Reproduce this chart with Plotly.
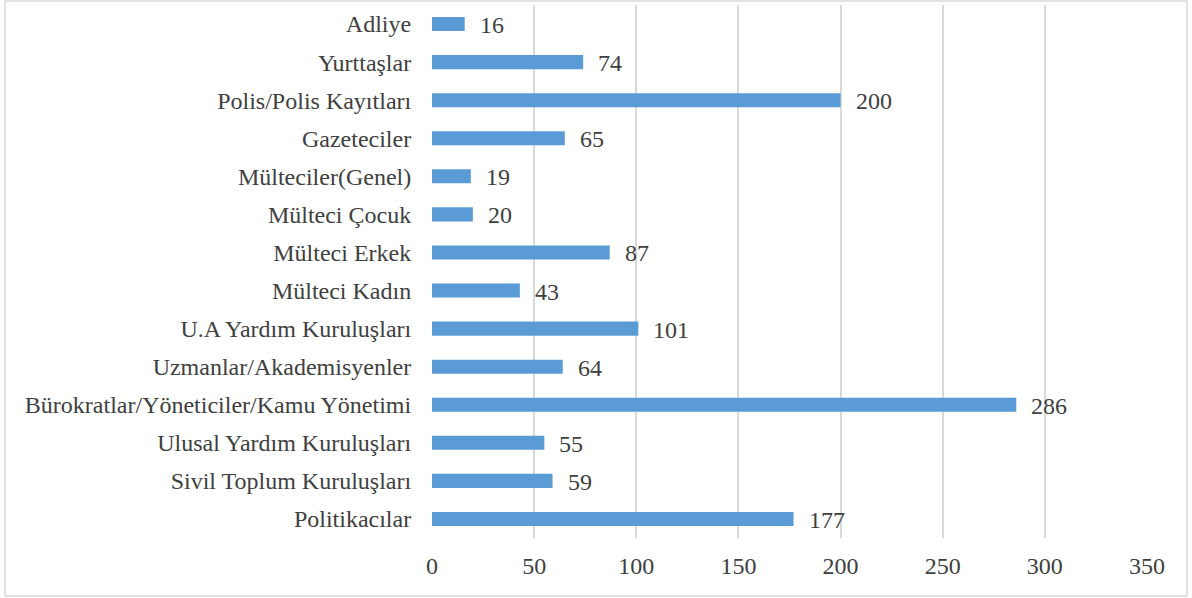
import plotly.graph_objects as go

categories = ["Adliye", "Yurttaşlar", "Polis/Polis Kayıtları", "Gazeteciler",
              "Mülteciler(Genel)", "Mülteci Çocuk", "Mülteci Erkek", "Mülteci Kadın",
              "U.A Yardım Kuruluşları", "Uzmanlar/Akademisyenler",
              "Bürokratlar/Yöneticiler/Kamu Yönetimi", "Ulusal Yardım Kuruluşları",
              "Sivil Toplum Kuruluşları", "Politikacılar"]
values = [16, 74, 200, 65, 19, 20, 87, 43, 101, 64, 286, 55, 59, 177]
x_ticks = [0, 50, 100, 150, 200, 250, 300, 350]

W, H = 1192, 598
ml, mr, mt, mb = 432, 45, 5, 60
FONT = "Liberation Serif"
TXT = "#404040"
FS = 24

fig = go.Figure()
fig.add_trace(go.Bar(
    x=values, y=categories, orientation="h",
    marker=dict(color="#5B9BD5", line=dict(width=0)),
    width=0.37, hoverinfo="skip",
))

for c, v in zip(categories, values):
    fig.add_annotation(x=v, y=c, text=str(v), showarrow=False,
                       xanchor="left", xshift=13, yshift=-1,
                       font=dict(family=FONT, size=FS, color=TXT))

pw = W - ml - mr
ph = H - mt - mb
# outer border in paper coords
x0 = (5 - ml) / pw
x1 = (1187 - ml) / pw
y0 = -(596 - (H - mb)) / ph
y1 = 1 + (mt - 1) / ph
fig.add_shape(type="rect", xref="paper", yref="paper", x0=x0, x1=x1, y0=y0, y1=y1,
              line=dict(color="#d9d9d9", width=1.5), fillcolor="rgba(0,0,0,0)")

fig.update_layout(
    width=W, height=H,
    margin=dict(l=ml, r=mr, t=mt, b=mb),
    paper_bgcolor="white", plot_bgcolor="white",
    showlegend=False,
    font=dict(family=FONT, size=FS, color=TXT),
    xaxis=dict(range=[0, 350], tickvals=x_ticks, showgrid=True, gridcolor="#d9d9d9",
               gridwidth=1.5, zeroline=False, showline=False,
               ticks="outside", ticklen=6, tickcolor="rgba(0,0,0,0)",
               tickfont=dict(family=FONT, size=FS, color=TXT)),
    yaxis=dict(categoryorder="array", categoryarray=categories[::-1],
               autorange=True, showgrid=False, zeroline=False, showline=False,
               ticks="outside", ticklen=15, tickcolor="rgba(0,0,0,0)",
               tickfont=dict(family=FONT, size=FS, color=TXT)),
    bargap=0.63,
)

fig.write_html("out.html", config={"displayModeBar": False},
               post_script="document.body.style.margin='0';")
